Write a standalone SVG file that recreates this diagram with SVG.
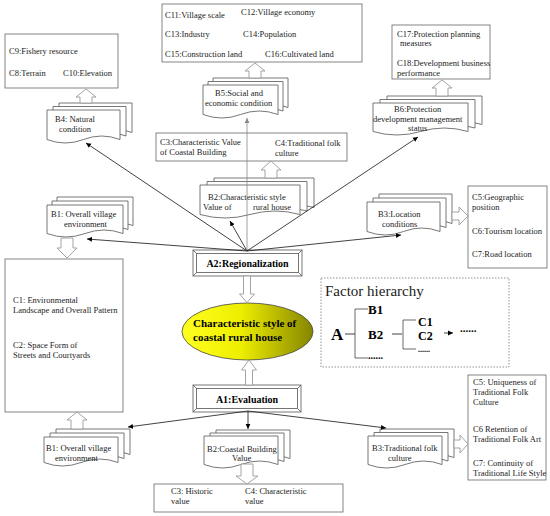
<svg xmlns="http://www.w3.org/2000/svg" width="550" height="516" viewBox="0 0 550 516">
<style>
.t{font-family:"Liberation Serif","Times New Roman",serif;font-size:8.5px;fill:#222}
.b{font-weight:bold;fill:#000}
.box{fill:#fff;stroke:#666;stroke-width:0.8}
.doc{fill:#fff;stroke:#555;stroke-width:0.8}
.ha{fill:#fff;stroke:#9a9a9a;stroke-width:0.9}
.ln{stroke:#111;stroke-width:0.8;fill:none;marker-end:url(#ah)}
.fr{fill:#fff;stroke:#555;stroke-width:0.8}
</style>
<defs>
<marker id="ah" markerWidth="6" markerHeight="6" refX="5" refY="3" orient="auto" markerUnits="userSpaceOnUse"><path d="M0,0.6 L5,3 L0,5.4 Z" fill="#000"/></marker>
<marker id="ahg" markerWidth="6" markerHeight="6" refX="5" refY="3" orient="auto" markerUnits="userSpaceOnUse"><path d="M0,0.6 L5,3 L0,5.4 Z" fill="#888"/></marker>
<linearGradient id="yg" x1="0" y1="0" x2="1" y2="0">
<stop offset="0" stop-color="#ffff20"/>
<stop offset="0.45" stop-color="#eeee00"/>
<stop offset="1" stop-color="#858500"/>
</linearGradient>
</defs>
<rect width="550" height="516" fill="#fff"/>

<g id="C9">
<rect class="box" x="5" y="34" width="113" height="54"/>
<text class="t" x="9" y="54">C9:Fishery resource</text>
<text class="t" x="9" y="76">C8:Terrain</text>
<text class="t" x="63" y="76">C10:Elevation</text>
</g>
<g id="C11">
<rect class="box" x="162" y="4" width="200" height="58"/>
<text class="t" x="165" y="18">C11:Village scale</text>
<text class="t" x="241" y="15">C12:Village economy</text>
<text class="t" x="165" y="37">C13:Industry</text>
<text class="t" x="243" y="37">C14:Population</text>
<text class="t" x="165" y="57">C15:Construction land</text>
<text class="t" x="265" y="57">C16:Cultivated land</text>
</g>
<g id="C17">
<rect class="box" x="392" y="25" width="98" height="54"/>
<text class="t" x="397" y="37">C17:Protection planning</text>
<text class="t" x="400" y="46">measures</text>
<text class="t" x="397" y="66">C18:Development business</text>
<text class="t" x="397" y="76">performance</text>
</g>
<g id="B4" transform="translate(47,110)">
<path class="doc" transform="translate(12,-7)" d="M0 0H73V29.5Q54.75 22.5 36.5 29.5T0 29.5Z"/>
<path class="doc" transform="translate(6,-3.5)" d="M0 0H73V29.5Q54.75 22.5 36.5 29.5T0 29.5Z"/>
<path class="doc" d="M0 0H73V29.5Q54.75 22.5 36.5 29.5T0 29.5Z"/>
<text class="t" x="8" y="12">B4: Natural</text>
<text class="t" x="12" y="22">condition</text>
</g>
<g id="B5" transform="translate(203,85)">
<path class="doc" transform="translate(10,-7)" d="M0 0H75V29.5Q56.25 22.5 37.5 29.5T0 29.5Z"/>
<path class="doc" transform="translate(5,-3.5)" d="M0 0H75V29.5Q56.25 22.5 37.5 29.5T0 29.5Z"/>
<path class="doc" d="M0 0H75V29.5Q56.25 22.5 37.5 29.5T0 29.5Z"/>
<text class="t" x="12" y="11">B5:Social and</text>
<text class="t" x="2" y="21">economic condition</text>
</g>
<g id="C3C4r">
<rect class="box" x="156" y="133" width="191" height="28"/>
<text class="t" x="160" y="145">C3:Characteristic Value</text>
<text class="t" x="160" y="155">of Coastal Building</text>
<text class="t" x="275" y="146">C4:Traditional folk</text>
<text class="t" x="275" y="156">culture</text>
</g>
<g id="B6" transform="translate(373,103)">
<path class="doc" transform="translate(14,-7)" d="M0 0H95V28.5Q71.25 21.5 47.5 28.5T0 28.5Z"/>
<path class="doc" transform="translate(7,-3.5)" d="M0 0H95V28.5Q71.25 21.5 47.5 28.5T0 28.5Z"/>
<path class="doc" d="M0 0H95V28.5Q71.25 21.5 47.5 28.5T0 28.5Z"/>
<text class="t" x="21" y="8.5">B6:Protection</text>
<text class="t" x="0" y="18.5">development management</text>
<text class="t" x="35" y="28">status</text>
</g>
<g id="B2r" transform="translate(200,185)">
<path class="doc" transform="translate(14,-7)" d="M0 0H100V29.5Q75 22.5 50 29.5T0 29.5Z"/>
<path class="doc" transform="translate(7,-3.5)" d="M0 0H100V29.5Q75 22.5 50 29.5T0 29.5Z"/>
<path class="doc" d="M0 0H100V29.5Q75 22.5 50 29.5T0 29.5Z"/>
<text class="t" x="8" y="15">B2:Characteristic style</text>
<text class="t" x="3" y="25">Value of</text>
<text class="t" x="53" y="25">rural house</text>
</g>
<g id="B1r" transform="translate(47,205)">
<path class="doc" transform="translate(10,-8)" d="M0 0H76V28.5Q57 21.5 38 28.5T0 28.5Z"/>
<path class="doc" transform="translate(5,-4)" d="M0 0H76V28.5Q57 21.5 38 28.5T0 28.5Z"/>
<path class="doc" d="M0 0H76V28.5Q57 21.5 38 28.5T0 28.5Z"/>
<text class="t" x="4" y="12">B1: Overall village</text>
<text class="t" x="17" y="22">environment</text>
</g>
<g id="B3r" transform="translate(367,202)">
<path class="doc" transform="translate(12,-8)" d="M0 0H73V29.5Q54.75 22.5 36.5 29.5T0 29.5Z"/>
<path class="doc" transform="translate(6,-4)" d="M0 0H73V29.5Q54.75 22.5 36.5 29.5T0 29.5Z"/>
<path class="doc" d="M0 0H73V29.5Q54.75 22.5 36.5 29.5T0 29.5Z"/>
<text class="t" x="11" y="15">B3:Location</text>
<text class="t" x="15" y="25">conditions</text>
</g>
<g id="C5r">
<rect class="box" x="468" y="186" width="79" height="82"/>
<text class="t" x="472" y="200">C5:Geographic</text>
<text class="t" x="472" y="210">position</text>
<text class="t" x="472" y="234">C6:Tourism location</text>
<text class="t" x="472" y="257">C7:Road location</text>
</g>
<g id="C1C2">
<rect class="box" x="5" y="259" width="118" height="153"/>
<text class="t" x="13" y="303">C1: Environmental</text>
<text class="t" x="13" y="313">Landscape and Overall Pattern</text>
<text class="t" x="13" y="348">C2: Space Form of</text>
<text class="t" x="13" y="358">Streets and Courtyards</text>
</g>
<g id="A2">
<rect class="fr" x="193" y="250" width="109" height="26"/>
<rect class="fr" x="196.5" y="253.5" width="102" height="19"/>
<path d="M193 250L196.5 253.5M302 250L298.5 253.5M193 276L196.5 272.5M302 276L298.5 272.5" stroke="#555" stroke-width="0.8"/>
<text class="t b" x="247.5" y="267" text-anchor="middle" style="font-size:10px">A2:Regionalization</text>
</g>
<g id="core">
<ellipse cx="247.5" cy="331.5" rx="65.5" ry="28.5" fill="url(#yg)" stroke="#444" stroke-width="0.8"/>
<text class="t b" x="193" y="327" style="font-size:11px">Characteristic style of</text>
<text class="t b" x="193" y="341" style="font-size:11px">coastal rural house</text>
</g>
<g id="factor">
<rect x="321" y="278" width="188" height="89" fill="none" stroke="#777" stroke-width="0.8" stroke-dasharray="1.5,1.5"/>
<text class="t" x="325" y="296" style="font-size:15px">Factor hierarchy</text>
<text class="t b" x="331" y="340" style="font-size:17px">A</text>
<path d="M355 309V358M355 309H368M355 358H368M403 320V349M403 320H416M403 349H416" stroke="#444" stroke-width="0.8" fill="none"/>
<path d="M345 334H355M392 334H402M444 333H453" class="ln"/>
<text class="t b" x="368" y="313.5" style="font-size:13px">B1</text>
<text class="t b" x="368" y="338.5" style="font-size:13px">B2</text>
<text class="t b" x="368" y="359" style="font-size:10px">......</text>
<text class="t b" x="418" y="325.5" style="font-size:12px">C1</text>
<text class="t b" x="418" y="339.5" style="font-size:12px">C2</text>
<text class="t b" x="418" y="351.5" style="font-size:8px">......</text>
<text class="t b" x="460" y="332" style="font-size:11px">......</text>
</g>
<g id="A1">
<rect class="fr" x="193" y="385" width="108" height="27"/>
<rect class="fr" x="196.5" y="388.5" width="101" height="20"/>
<path d="M193 385L196.5 388.5M301 385L297.5 388.5M193 412L196.5 408.5M301 412L297.5 408.5" stroke="#555" stroke-width="0.8"/>
<text class="t b" x="247" y="403" text-anchor="middle" style="font-size:10px">A1:Evaluation</text>
</g>
<g id="C5e">
<rect class="box" x="468" y="375" width="78" height="105"/>
<text class="t" x="473" y="385">C5: Uniqueness of</text>
<text class="t" x="473" y="395">Traditional Folk</text>
<text class="t" x="473" y="405">Culture</text>
<text class="t" x="473" y="432">C6 Retention of</text>
<text class="t" x="473" y="442">Traditional Folk Art</text>
<text class="t" x="473" y="466">C7: Continuity of</text>
<text class="t" x="473" y="476">Traditional Life Style</text>
</g>
<g id="B1e" transform="translate(44,437)">
<path class="doc" transform="translate(12,-8)" d="M0 0H74V25.5Q55.5 18.5 37 25.5T0 25.5Z"/>
<path class="doc" transform="translate(6,-4)" d="M0 0H74V25.5Q55.5 18.5 37 25.5T0 25.5Z"/>
<path class="doc" d="M0 0H74V25.5Q55.5 18.5 37 25.5T0 25.5Z"/>
<text class="t" x="2" y="14">B1: Overall village</text>
<text class="t" x="11" y="24">environment</text>
</g>
<g id="B2e" transform="translate(204,436)">
<path class="doc" transform="translate(12,-6)" d="M0 0H74V28.5Q55.5 21.5 37 28.5T0 28.5Z"/>
<path class="doc" transform="translate(6,-3)" d="M0 0H74V28.5Q55.5 21.5 37 28.5T0 28.5Z"/>
<path class="doc" d="M0 0H74V28.5Q55.5 21.5 37 28.5T0 28.5Z"/>
<text class="t" x="3" y="16">B2:Coastal Building</text>
<text class="t" x="28" y="25">Value</text>
</g>
<g id="B3e" transform="translate(368,436)">
<path class="doc" transform="translate(12,-7)" d="M0 0H74V28.5Q55.5 21.5 37 28.5T0 28.5Z"/>
<path class="doc" transform="translate(6,-3.5)" d="M0 0H74V28.5Q55.5 21.5 37 28.5T0 28.5Z"/>
<path class="doc" d="M0 0H74V28.5Q55.5 21.5 37 28.5T0 28.5Z"/>
<text class="t" x="4" y="15">B3:Traditional folk</text>
<text class="t" x="20" y="25">culture</text>
</g>
<g id="C3C4e">
<rect class="box" x="154" y="484" width="189" height="28"/>
<text class="t" x="171" y="494">C3: Historic</text>
<text class="t" x="171" y="504">value</text>
<text class="t" x="245" y="494">C4: Characteristic</text>
<text class="t" x="245" y="504">value</text>
</g>

<g id="connectors">
<path class="ha" d="M86 89L96 97L92 97L92 103L80 103L80 97L76 97Z"/>
<path class="ha" d="M255 63L265 71L261 71L261 78L249 78L249 71L245 71Z"/>
<path class="ha" d="M271 161L281 170L277 170L277 178L265 178L265 170L261 170Z"/>
<path class="ha" d="M442 80L452 88L448 88L448 96L436 96L436 88L432 88Z"/>
<path class="ha" d="M61 238L73 238L73 248L77 248L67 258L57 248L61 248Z"/>
<path class="ha" d="M243.5 276L250.5 276L250.5 294L254.5 294L247 302.5L239.5 294L243.5 294Z"/>
<path class="ha" d="M249 360L256.5 370L252.5 370L252.5 385L245.5 385L245.5 370L241.5 370Z"/>
<path class="ha" d="M77 412L87 420L83 420L83 429L71 429L71 420L67 420Z"/>
<path class="ha" d="M241 464L253 464L253 476L258 476L247 484L236 476L241 476Z"/>
<path class="ha" d="M452 212L459 212L459 207L468 216L459 225L459 220L452 220Z"/>
<path class="ha" d="M454 440L460 440L460 435L468 444L460 453L460 448L454 448Z"/>
<line class="ln" x1="247" y1="251" x2="86" y2="143"/>
<line class="ln" x1="247" y1="251" x2="87" y2="239"/>
<line class="ln" x1="247" y1="251" x2="230" y2="221"/>
<line class="ln" x1="247" y1="251" x2="247" y2="118" style="stroke:#888;marker-end:url(#ahg)"/>
<line class="ln" x1="247" y1="251" x2="418" y2="137"/>
<line class="ln" x1="247" y1="251" x2="401" y2="235"/>
<line class="ln" x1="248" y1="411" x2="128" y2="427"/>
<line class="ln" x1="248" y1="411" x2="248" y2="429"/>
<line class="ln" x1="248" y1="411" x2="386" y2="428"/>
</g>
</svg>
